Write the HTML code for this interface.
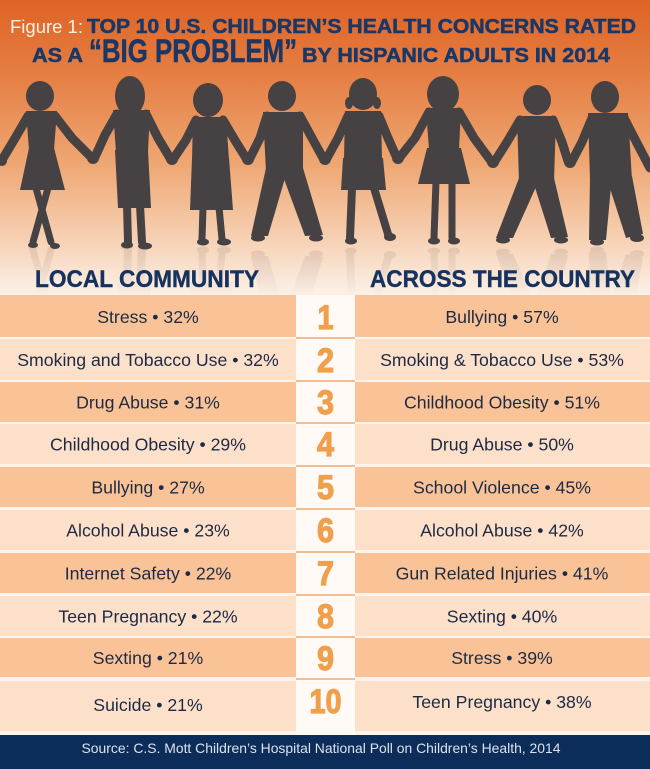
<!DOCTYPE html>
<html><head><meta charset="utf-8"><style>
html,body{margin:0;padding:0;background:#fff;}
svg{display:block;}
</style></head><body>
<svg width="650" height="769" viewBox="0 0 650 769" xmlns="http://www.w3.org/2000/svg">
<defs>
<linearGradient id="bg" x1="0" y1="0" x2="0" y2="1">
<stop offset="0" stop-color="#de6325"/>
<stop offset="0.25" stop-color="#e57e43"/>
<stop offset="0.55" stop-color="#eea672"/>
<stop offset="0.8" stop-color="#f6cfb1"/>
<stop offset="1" stop-color="#fcf1e8"/>
</linearGradient>
<linearGradient id="rf" x1="0" y1="246" x2="0" y2="300" gradientUnits="userSpaceOnUse">
<stop offset="0" stop-color="#fff" stop-opacity="0.35"/>
<stop offset="1" stop-color="#fff" stop-opacity="0"/>
</linearGradient>
<mask id="rmask"><rect x="0" y="246" width="650" height="60" fill="url(#rf)"/></mask>
<g id="kids" fill="#464244" stroke="none">
<g fill="none" stroke="#464244" stroke-width="9" stroke-linecap="round" stroke-linejoin="round">
<polyline points="28,116 14,140 2,160"/><polyline points="55,116 72,138 91,157"/>
<polyline points="117,114 105,135 95,157"/><polyline points="146,114 158,138 170,158"/>
<polyline points="196,120 186,140 174,158"/><polyline points="223,120 236,142 246,158"/>
<polyline points="267,116 260,138 250,158"/><polyline points="300,116 312,138 323,158"/>
<polyline points="348,116 338,138 327,158"/><polyline points="379,116 388,138 396,156"/>
<polyline points="429,112 415,138 400,157"/><polyline points="459,112 474,138 491,161"/>
<polyline points="520,120 507,142 495,161"/><polyline points="553,120 562,142 568,161"/>
<polyline points="592,118 582,142 572,161"/><polyline points="624,118 638,145 650,168"/>
</g>
<circle cx="93" cy="158" r="6"/><circle cx="172" cy="159" r="6"/><circle cx="248" cy="159" r="6"/>
<circle cx="325" cy="159" r="6"/><circle cx="398" cy="158" r="6"/><circle cx="493" cy="162" r="6"/>
<circle cx="570" cy="162" r="6"/><circle cx="2" cy="161" r="5"/>
<!-- fig1 -->
<ellipse cx="40" cy="96" rx="14" ry="15"/>
<polygon points="26,111 57,111 54,150 29,150"/>
<polygon points="29,148 54,148 65,190 20,190"/>
<g stroke="#464244" stroke-width="7" stroke-linecap="round"><line x1="36" y1="188" x2="51" y2="242"/><line x1="48" y1="188" x2="33" y2="242"/></g>
<ellipse cx="33" cy="245" rx="5" ry="3"/><ellipse cx="55" cy="246" rx="5" ry="3"/>
<!-- fig2 -->
<ellipse cx="130" cy="96" rx="15" ry="20"/>
<polygon points="113,110 150,110 148,152 116,152"/>
<polygon points="115,150 148,150 151,208 118,208"/>
<g stroke="#464244" stroke-width="8" stroke-linecap="round"><line x1="127" y1="205" x2="128" y2="242"/><line x1="140" y1="205" x2="142" y2="242"/></g>
<ellipse cx="127" cy="245" rx="6" ry="3.5"/><ellipse cx="145" cy="246" rx="7" ry="3.5"/>
<!-- fig3 -->
<ellipse cx="208" cy="100" rx="15" ry="17"/>
<polygon points="193,117 226,117 229,160 192,160"/>
<polygon points="192,158 229,158 233,210 190,210"/>
<g stroke="#464244" stroke-width="7" stroke-linecap="round"><line x1="203" y1="207" x2="202" y2="239"/><line x1="219" y1="207" x2="222" y2="239"/></g>
<ellipse cx="203" cy="242" rx="6" ry="3.5"/><ellipse cx="224" cy="242" rx="7" ry="3.5"/>
<!-- fig4 -->
<ellipse cx="282" cy="96" rx="14" ry="15"/>
<polygon points="263,112 303,112 303,172 266,172"/>
<polygon points="266,168 288,168 268,236 251,236"/>
<polygon points="280,168 303,168 323,235 305,236"/>
<ellipse cx="258" cy="238" rx="7" ry="3.5"/><ellipse cx="316" cy="238" rx="7" ry="3.5"/>
<!-- fig5 -->
<ellipse cx="363" cy="94" rx="14" ry="16"/>
<ellipse cx="349" cy="103" rx="4" ry="6"/><ellipse cx="377" cy="103" rx="4" ry="6"/>
<polygon points="345,111 381,111 382,160 344,160"/>
<polygon points="343,158 383,158 386,190 341,190"/>
<g stroke="#464244" stroke-width="8" stroke-linecap="round"><line x1="352" y1="188" x2="350" y2="238"/><line x1="374" y1="188" x2="388" y2="234"/></g>
<ellipse cx="351" cy="241" rx="6" ry="3.5"/><ellipse cx="390" cy="237" rx="6" ry="4"/>
<!-- fig6 -->
<ellipse cx="443" cy="94" rx="16" ry="18"/>
<polygon points="426,108 461,108 459,150 429,150"/>
<polygon points="427,148 461,148 470,184 418,184"/>
<g stroke="#464244" stroke-width="7" stroke-linecap="round"><line x1="436" y1="181" x2="434" y2="238"/><line x1="452" y1="181" x2="452" y2="238"/></g>
<ellipse cx="434" cy="241" rx="6" ry="3.5"/><ellipse cx="454" cy="241" rx="6" ry="3.5"/>
<!-- fig7 -->
<ellipse cx="537" cy="100" rx="14" ry="15"/>
<polygon points="517,116 556,116 554,182 519,182"/>
<polygon points="519,178 540,178 513,238 496,238"/>
<polygon points="532,178 554,178 568,237 551,238"/>
<ellipse cx="503" cy="240" rx="7" ry="3.5"/><ellipse cx="561" cy="240" rx="7" ry="3.5"/>
<!-- fig8 -->
<ellipse cx="605" cy="97" rx="14" ry="16"/>
<polygon points="588,113 628,113 632,180 590,180"/>
<polygon points="590,176 612,176 606,240 589,240"/>
<polygon points="606,176 632,176 643,234 626,238"/>
<ellipse cx="597" cy="242" rx="7" ry="3.5"/><ellipse cx="637" cy="238" rx="7" ry="4"/>
</g>
</defs>

<rect x="0" y="0" width="650" height="295" fill="url(#bg)"/>
<use href="#kids"/>
<g mask="url(#rmask)" opacity="0.35"><use href="#kids" transform="translate(0,492) scale(1,-1)"/></g>

<g font-family="Liberation Sans, Arial, sans-serif">
<text x="10" y="33" font-size="18" fill="#fff1e4" textLength="73" lengthAdjust="spacingAndGlyphs">Figure 1:</text>
<g fill="#1b3766" stroke="#1b3766" stroke-width="0.5" font-weight="bold">
<text x="87" y="33" font-size="20" textLength="549" lengthAdjust="spacingAndGlyphs">TOP 10 U.S. CHILDREN’S HEALTH CONCERNS RATED</text>
<text x="32" y="62" font-size="20" textLength="51" lengthAdjust="spacingAndGlyphs">AS A</text>
<text x="89" y="62" font-size="32" textLength="208" lengthAdjust="spacingAndGlyphs">“BIG PROBLEM”</text>
<text x="302" y="62" font-size="20" textLength="308" lengthAdjust="spacingAndGlyphs">BY HISPANIC ADULTS IN 2014</text>
</g>
<g fill="#16325f" stroke="#16325f" stroke-width="0.4" font-weight="bold" font-size="24">
<text x="35" y="287" textLength="224" lengthAdjust="spacingAndGlyphs">LOCAL COMMUNITY</text>
<text x="370" y="287" textLength="265" lengthAdjust="spacingAndGlyphs">ACROSS THE COUNTRY</text>
</g>
</g>

<rect x="0" y="295" width="650" height="440" fill="#fef4ec"/>
<rect x="296" y="295" width="59" height="440" fill="#fffaf6"/>
<g>
<rect x="0" y="295" width="296" height="42" fill="#f9c397"/><rect x="355" y="295" width="295" height="42" fill="#f9c397"/>
<rect x="0" y="339" width="296" height="41" fill="#fde0ca"/><rect x="355" y="339" width="295" height="41" fill="#fde0ca"/>
<rect x="0" y="382" width="296" height="40" fill="#f9c397"/><rect x="355" y="382" width="295" height="40" fill="#f9c397"/>
<rect x="0" y="424" width="296" height="40" fill="#fde0ca"/><rect x="355" y="424" width="295" height="40" fill="#fde0ca"/>
<rect x="0" y="467" width="296" height="40" fill="#f9c397"/><rect x="355" y="467" width="295" height="40" fill="#f9c397"/>
<rect x="0" y="510" width="296" height="40" fill="#fde0ca"/><rect x="355" y="510" width="295" height="40" fill="#fde0ca"/>
<rect x="0" y="553" width="296" height="40" fill="#f9c397"/><rect x="355" y="553" width="295" height="40" fill="#f9c397"/>
<rect x="0" y="596" width="296" height="40" fill="#fde0ca"/><rect x="355" y="596" width="295" height="40" fill="#fde0ca"/>
<rect x="0" y="638" width="296" height="39" fill="#f9c397"/><rect x="355" y="638" width="295" height="39" fill="#f9c397"/>
<rect x="0" y="681" width="296" height="50" fill="#fde0ca"/><rect x="355" y="681" width="295" height="50" fill="#fde0ca"/>
</g>
<g fill="#f5be90">
<rect x="296" y="337" width="59" height="2"/><rect x="296" y="380" width="59" height="2"/>
<rect x="296" y="422" width="59" height="2"/><rect x="296" y="465" width="59" height="2"/>
<rect x="296" y="508" width="59" height="2"/><rect x="296" y="551" width="59" height="2"/>
<rect x="296" y="594" width="59" height="2"/><rect x="296" y="636" width="59" height="2"/>
<rect x="296" y="678" width="59" height="2"/>
</g>

<g font-family="Liberation Sans, Arial, sans-serif" font-size="17.7" fill="#1c2a44" text-anchor="middle">
<text x="148" y="323">Stress • 32%</text><text x="502" y="323">Bullying • 57%</text>
<text x="148" y="366">Smoking and Tobacco Use • 32%</text><text x="502" y="366">Smoking &amp; Tobacco Use • 53%</text>
<text x="148" y="408.5">Drug Abuse • 31%</text><text x="502" y="408.5">Childhood Obesity • 51%</text>
<text x="148" y="450.5">Childhood Obesity • 29%</text><text x="502" y="450.5">Drug Abuse • 50%</text>
<text x="148" y="493.5">Bullying • 27%</text><text x="502" y="493.5">School Violence • 45%</text>
<text x="148" y="536.5">Alcohol Abuse • 23%</text><text x="502" y="536.5">Alcohol Abuse • 42%</text>
<text x="148" y="579.5">Internet Safety • 22%</text><text x="502" y="579.5">Gun Related Injuries • 41%</text>
<text x="148" y="622.5">Teen Pregnancy • 22%</text><text x="502" y="622.5">Sexting • 40%</text>
<text x="148" y="664">Sexting • 21%</text><text x="502" y="664">Stress • 39%</text>
<text x="148" y="711">Suicide • 21%</text><text x="502" y="708">Teen Pregnancy • 38%</text>
</g>

<g font-family="Liberation Sans, Arial, sans-serif" font-size="34" font-weight="bold" fill="#f0a04c" stroke="#f0a04c" stroke-width="1.2" text-anchor="middle">
<text x="325.5" y="329" textLength="16" lengthAdjust="spacingAndGlyphs">1</text>
<text x="325.5" y="372" textLength="17" lengthAdjust="spacingAndGlyphs">2</text>
<text x="325.5" y="414" textLength="17" lengthAdjust="spacingAndGlyphs">3</text>
<text x="325.5" y="456" textLength="17" lengthAdjust="spacingAndGlyphs">4</text>
<text x="325.5" y="499" textLength="17" lengthAdjust="spacingAndGlyphs">5</text>
<text x="325.5" y="542" textLength="17" lengthAdjust="spacingAndGlyphs">6</text>
<text x="325.5" y="585" textLength="17" lengthAdjust="spacingAndGlyphs">7</text>
<text x="325.5" y="628" textLength="17" lengthAdjust="spacingAndGlyphs">8</text>
<text x="325.5" y="670" textLength="17" lengthAdjust="spacingAndGlyphs">9</text>
<text x="325.5" y="713" textLength="32" lengthAdjust="spacingAndGlyphs">10</text>
</g>

<rect x="0" y="735" width="650" height="34" fill="#0c2d5a"/>
<text x="321" y="753" font-family="Liberation Sans, Arial, sans-serif" font-size="14" fill="#dde2ea" text-anchor="middle" textLength="479" lengthAdjust="spacingAndGlyphs">Source: C.S. Mott Children’s Hospital National Poll on Children’s Health, 2014</text>
</svg>
</body></html>
